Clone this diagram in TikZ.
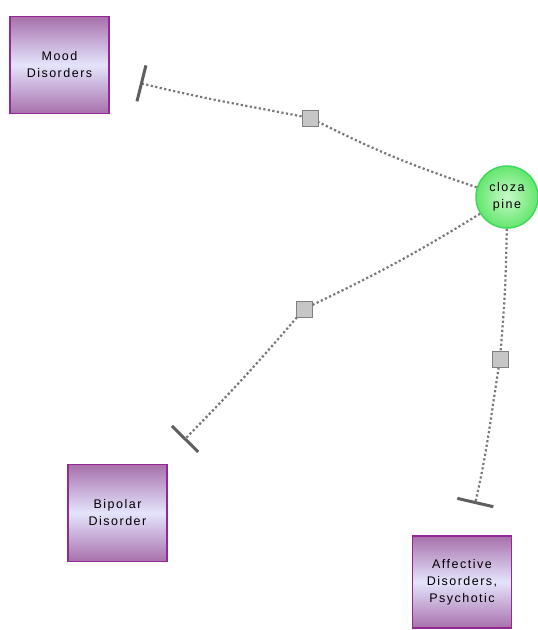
\documentclass[tikz,border=0pt]{standalone}
\usepackage{fontspec}
\setmainfont{Liberation Sans}[LetterSpace=12]
\usetikzlibrary{arrows.meta}
\definecolor{boxedge}{RGB}{150,40,150}
\definecolor{boxtop}{RGB}{168,112,172}
\definecolor{boxmid}{RGB}{228,228,252}
\definecolor{drugedge}{RGB}{60,220,90}
\definecolor{druginner}{RGB}{200,250,200}
\definecolor{drugouter}{RGB}{100,230,110}
\definecolor{linkgray}{RGB}{120,120,120}
\definecolor{bargray}{RGB}{95,95,95}
\tikzset{l/.style={font=\fontsize{12.5}{17}\selectfont}}
\tikzset{term/.style={l, draw=boxedge, line width=1.2pt, top color=boxtop, bottom color=boxtop, middle color=boxmid, minimum width=99pt, minimum height=97pt, align=center, inner sep=2pt}}
\tikzset{drug/.style={l, circle, draw=drugedge, line width=1.5pt, inner color=druginner, outer color=drugouter, minimum size=62pt, align=center, inner sep=0pt}}
\tikzset{sq/.style={draw=gray, fill=gray!45, line width=0.8pt, minimum size=16pt, inner sep=0pt}}
\tikzset{link/.style={draw=linkgray, line width=2.2pt, dash pattern=on 2.2pt off 2.4pt}}
\tikzset{inhib/.style={link, -{Bar[width=37pt, line width=3pt, color=bargray]}}}

\begin{document}
\begin{tikzpicture}[x=1pt,y=-1pt]
            \useasboundingbox (0,0) rectangle (538,630);
            \node[term] (M) at (59.5,65) {Mood\\Disorders};
            \node[term] (B) at (117.5,513) {Bipolar\\Disorder};
            \node[term, minimum height=92pt] (P) at (462,582) {Affective\\Disorders,\\Psychotic};
            \node[drug] (C) at (507,197) {cloza\\pine};
            \node[sq] (s1) at (310,118) {};
            \node[sq] (s2) at (304,309) {};
            \node[sq] (s3) at (500,359) {};
            \coordinate (m1) at (140,83);
            \coordinate (b1) at (184,440);
            \coordinate (p1) at (475,504);
            % clozapine -> mood disorders
            \draw[link] (C) to[bend left=4] (s1);
            \draw[inhib] (s1) to[out=169, in=-14] (m1);
            % clozapine -> bipolar disorder
            \draw[link] (C) to[bend left=3] (s2);
            \draw[inhib] (s2) to[bend left=2] (b1);
            % clozapine -> affective disorders
            \draw[link] (C) to[bend left=2] (s3);
            \draw[inhib] (s3) to[out=-99, in=77] (p1);
          \end{tikzpicture}
\end{document}
